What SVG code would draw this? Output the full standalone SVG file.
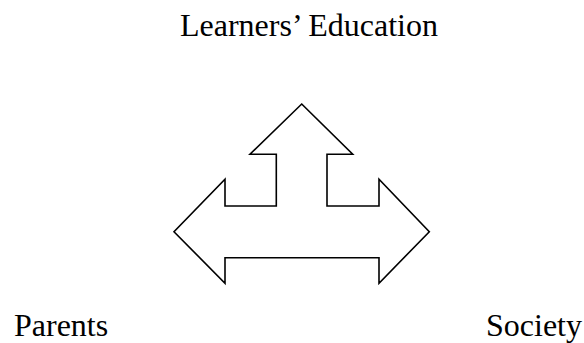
<svg xmlns="http://www.w3.org/2000/svg" width="584" height="343" viewBox="0 0 584 343">
  <style>
    .label { font-family: "Liberation Serif", "Times New Roman", serif; font-size: 32px; fill: #000; }
    .arrow { fill: #fff; stroke: #000; stroke-width: 1.6; stroke-linejoin: miter; }
  </style>
  <rect width="584" height="343" fill="#fff"/>
  <g id="connectors">
    <!-- three-way block arrow: up, left, right -->
    <path class="arrow" d="M301.7,104 L352.7,154.3 L327,154.3 L327,206 L379,206 L379,179.3 L429.3,231.7 L379,283.3 L379,257.7 L225,257.7 L225,283.3 L174,231.7 L225,179.3 L225,206 L276.3,206 L276.3,154.3 L250,154.3 Z"/>
  </g>
  <g id="node-learners">
    <text class="label" x="180" y="36">Learners’ Education</text>
  </g>
  <g id="node-parents">
    <text class="label" x="14" y="336">Parents</text>
  </g>
  <g id="node-society">
    <text class="label" x="486" y="336">Society</text>
  </g>
</svg>
